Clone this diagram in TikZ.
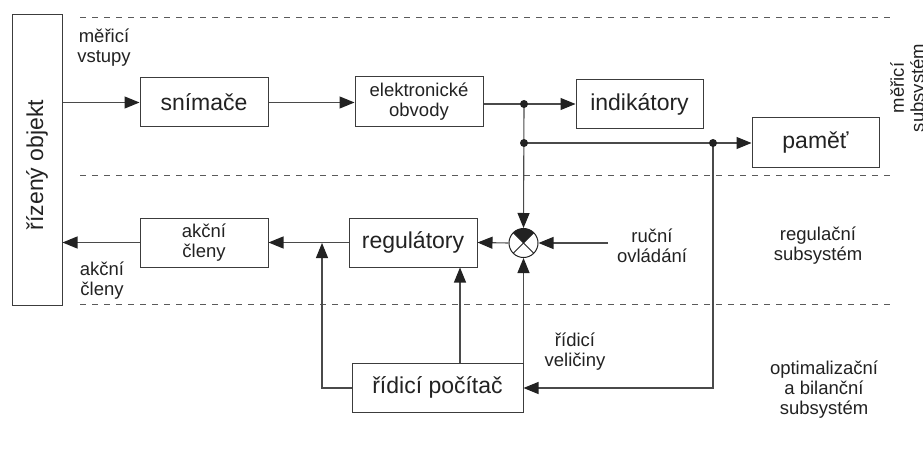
\documentclass[tikz,border=0pt]{standalone}
\usepackage{fontspec}
\setmainfont{Liberation Sans}
\usetikzlibrary{arrows.meta}
\definecolor{ink}{HTML}{222222}
\definecolor{edge}{HTML}{3C3C3C}
\definecolor{wire}{HTML}{4A4A4A}
\definecolor{dashgray}{HTML}{5A5A5A}

\begin{document}
\begin{tikzpicture}[x=1pt,y=1pt,
  box/.style={draw=edge, line width=1pt, inner sep=0pt, text=ink,
              font=\fontsize{23}{27}\selectfont},
  smallbox/.style={box, align=center, font=\fontsize{18.5}{20}\selectfont},
  lbl/.style={text=ink, inner sep=0pt, align=center,
              font=\fontsize{18.5}{20}\selectfont},
  conn/.style={draw=wire, line width=1.1pt},
  arr/.style={conn, -{Triangle[length=15pt,width=12pt,color=ink]}},
  zone/.style={draw=dashgray, line width=0.9pt, dash pattern=on 6pt off 6pt},
  dot/.style={circle, fill=ink, inner sep=0pt, minimum size=8pt}
]
\useasboundingbox[fill=white] (0,0) rectangle (923,-457);

% subsystem boundaries
\draw[zone] (80,-17)  -- (890,-17);
\draw[zone] (80,-175) -- (890,-175);
\draw[zone] (80,-304) -- (890,-304);

% blocks
\node[box, minimum width=50pt, minimum height=290pt] (obj) at (37,-160)
  {\rotatebox{90}{řízený objekt\hspace{10pt}}};
\node[box, minimum width=128pt, minimum height=49pt] (sn)  at (204,-102.5) {snímače};
\node[smallbox, minimum width=128pt, minimum height=50pt] (el) at (419,-102) {elektronické\\obvody};
\node[box, minimum width=127pt, minimum height=49pt] (ind) at (639.5,-104.5) {indikátory};
\node[box, minimum width=127pt, minimum height=50pt] (pam) at (815.5,-143) {paměť};
\node[box, minimum width=128pt, minimum height=49pt] (reg) at (413,-242.5) {regulátory};
\node[smallbox, minimum width=128pt, minimum height=49pt] (akc) at (204,-242.5) {akční\\členy};
\node[box, minimum width=171pt, minimum height=49pt] (pc)  at (437.5,-387.5) {řídicí počítač};

% summing junction
\node[circle, draw=ink, line width=1pt, minimum size=29pt, inner sep=0pt] (sum) at (523.5,-243) {};
\fill[ink] (sum.center) -- ([shift={(45:14.5)}]sum.center)
  arc[start angle=45, end angle=135, radius=14.5] -- cycle;
\draw[ink, line width=0.9pt] ([shift={(45:14.5)}]sum.center) -- ([shift={(225:14.5)}]sum.center);
\draw[ink, line width=0.9pt] ([shift={(135:14.5)}]sum.center) -- ([shift={(315:14.5)}]sum.center);

% branch points and bends
\coordinate (d1) at (524,-104);
\coordinate (d2) at (524,-143);
\coordinate (d3) at (713,-143);
\coordinate (d4) at (713,-388);
\coordinate (jn) at (322,-243);
\coordinate (pcl) at (322,-388);
\coordinate (rin) at (608,-243);
\coordinate (px) at (460,-300);

% connectors
\draw[arr] (obj.east |- sn.west) -- (sn.west);
\draw[arr] (sn.east) -- (sn.east -| el.west);
\draw[conn] (el.east |- d1) -- (d1);
\draw[arr] (d1) -- (ind.west |- d1);
\draw[arr] (d1) -- (sum.north);
\draw[arr] (d2) -- (pam.west |- d2);
\draw[arr] (d3) -- (d4) -- (pc.east |- d4);
\draw[arr] (rin) -- (sum.east);
\draw[arr] (sum.west) -- (reg.east);
\draw[arr] (reg.west) -- (akc.east);
\draw[arr] (akc.west) -- (obj.east |- akc.west);
\draw[arr] (pc.west |- pcl) -- (pcl) -- (jn);
\draw[arr] (pc.north -| px) -- (reg.south -| px);
\draw[arr] (sum.south |- pc.north) -- (sum.south);

\node[dot] (dot1) at (d1) {};
\node[dot] (dot2) at (d2) {};
\node[dot] (dot3) at (d3) {};

% labels
\node[lbl] (lmv) at (104,-48) {měřicí\\vstupy};
\node[lbl] (lak) at (102,-281) {akční\\členy};
\node[lbl] (lro) at (652,-246) {ruční\\ovládání};
\node[lbl] (lrv) at (575,-352) {řídicí\\veličiny};
\node[lbl] (lrs) at (818,-246) {regulační\\subsystém};
\node[lbl] (lob) at (824,-390) {optimalizační\\a bilanční\\subsystém};
\node[lbl, rotate=90] (lms) at (909,-88) {měřicí\\subsystém};
\end{tikzpicture}
\end{document}
